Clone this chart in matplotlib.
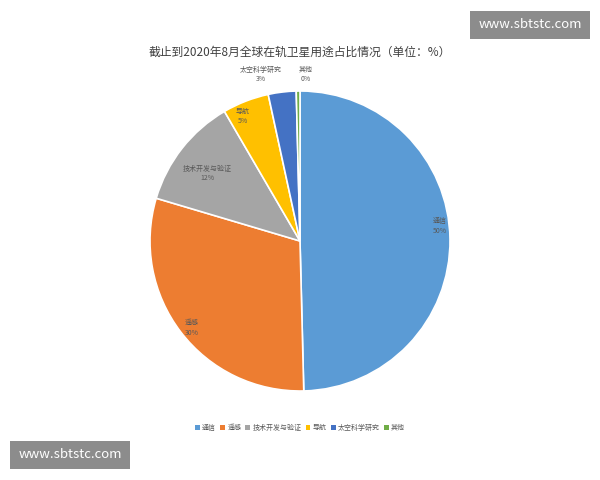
import matplotlib
matplotlib.use('Agg')
import matplotlib.pyplot as plt

plt.rcParams['font.family'] = ['Noto Sans CJK SC', 'DejaVu Sans']

categories = ['通信', '遥感', '技术开发与验证', '导航', '太空科学研究', '其他']
values = [49.6, 30.0, 12.0, 5.0, 3.0, 0.4]
pct_labels = ['50%', '30%', '12%', '5%', '3%', '0%']
colors = ['#5b9bd5', '#ed7d31', '#a5a5a5', '#ffc000', '#4472c4', '#70ad47']

fig = plt.figure(figsize=(6, 4.8), dpi=100)
ax = fig.add_axes([0.25, 1 - 391/480, 0.5, 300/480])
wedges, _ = ax.pie(values, colors=colors, startangle=90, counterclock=False,
                   wedgeprops=dict(edgecolor='white', linewidth=1.2))
ax.set_aspect('equal')
ax.set_xlim(-1.0, 1.0)
ax.set_ylim(-1.0, 1.0)

label_pos = [(0.93, 0.1), (-0.72, -0.58), (-0.62, 0.45), (-0.38, 0.83), (-0.26, 1.11), (0.04, 1.11)]
for (x, y), c, p in zip(label_pos, categories, pct_labels):
    ax.text(x, y, c + '\n' + p, ha='center', va='center', fontsize=5, color='#595959', linespacing=1.3)

fig.text(0.5, 1 - 52/480, '截止到2020年8月全球在轨卫星用途占比情况（单位：%）', ha='center', va='center',
         fontsize=8.5, color='#404040')

handles = [plt.Rectangle((0, 0), 1, 1, fc=c) for c in colors]
fig.legend(handles, categories, loc='center', bbox_to_anchor=(0.5, 1 - 428/480), ncol=6,
           frameon=False, fontsize=5, handlelength=0.7, handleheight=0.7, columnspacing=0.6,
           handletextpad=0.3, labelcolor='#595959')

fig.text(530/600, 1 - 25/480, 'www.sbtstc.com', ha='center', va='center', fontsize=9.5, color='white',
         bbox=dict(boxstyle='square,pad=0.6', fc='#8c8c8c', ec='none'))
fig.text(70/600, 1 - 455/480, 'www.sbtstc.com', ha='center', va='center', fontsize=9.5, color='white',
         bbox=dict(boxstyle='square,pad=0.6', fc='#8c8c8c', ec='none'))

fig.savefig('out.png', dpi=100, facecolor='white')
